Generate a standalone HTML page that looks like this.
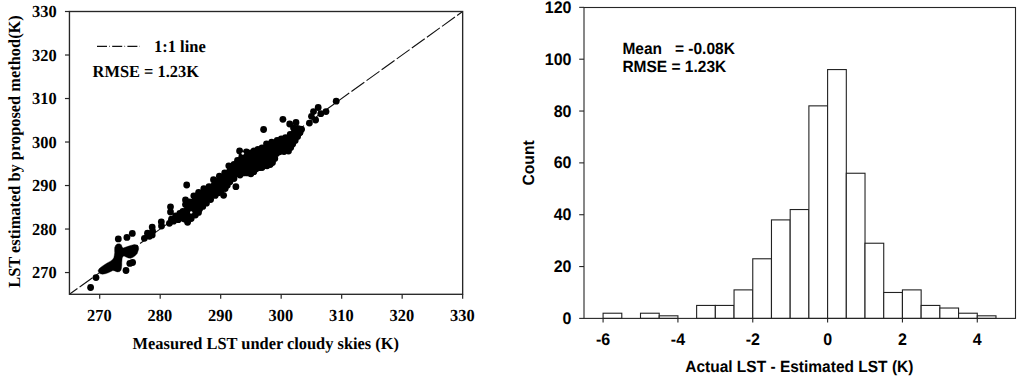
<!DOCTYPE html>
<html><head><meta charset="utf-8"><title>LST scatter and histogram</title>
<style>html,body{margin:0;padding:0;background:#fff;width:1024px;height:384px;overflow:hidden}
svg{display:block}
text{text-rendering:geometricPrecision}
</style></head><body>
<svg width="1024" height="384" viewBox="0 0 1024 384"><line x1="462.65" y1="11.50" x2="69.45" y2="294.30" stroke="#111" stroke-width="1.1" stroke-dasharray="15.9 2.7" stroke-dashoffset="9.1"/>
<g fill="#000">
<polygon points="115.7,245.2 117.1,243.9 119.4,243.7 121.3,244.7 122.1,247.0 123.2,248.0 126.0,247.0 128.8,246.1 131.6,245.2 134.4,244.5 136.8,244.9 138.4,246.4 138.7,248.9 138.0,251.2 137.2,253.6 135.4,255.5 133.0,257.3 130.7,258.3 128.3,258.0 126.0,256.9 124.1,256.1 122.7,256.4 122.1,258.7 121.8,262.5 121.8,265.3 121.5,268.1 120.8,270.5 119.4,271.7 117.1,271.9 114.7,270.9 112.9,270.5 111.0,271.4 108.2,272.8 105.4,273.7 102.6,274.2 100.2,273.7 98.6,272.3 98.1,270.5 99.3,268.6 101.6,266.7 104.4,264.8 107.2,263.0 110.1,261.4 112.4,259.7 113.8,257.8 114.3,255.5 114.7,252.7 114.6,250.3 114.7,247.5" stroke="#000" stroke-width="0.4" stroke-linejoin="round"/>
<polygon points="169.4,223.3 171.5,219.2 175.6,216.0 179.8,213.4 182.9,211.4 185.5,204.6 185.5,199.9 189.7,202.0 193.8,195.8 198.6,192.3 203.8,188.7 209.0,186.6 213.5,179.7 219.4,176.2 224.7,172.8 228.8,165.8 234.0,164.5 237.5,160.5 239.6,151.0 246.4,151.8 250.8,153.0 254.0,151.0 257.9,149.4 262.0,147.8 266.5,144.0 271.7,142.2 277.2,140.3 281.3,138.8 285.5,137.7 290.2,134.4 294.4,131.8 299.6,129.7 300.6,129.2 299.9,132.6 297.6,136.6 295.2,140.6 292.7,144.1 290.7,147.6 288.5,151.0 284.0,151.5 279.5,151.8 276.5,153.5 274.8,158.5 272.5,162.5 270.2,164.5 267.0,165.8 264.6,165.4 262.0,167.5 259.0,167.7 256.2,168.8 253.8,171.7 250.9,173.8 247.5,172.9 244.0,172.9 240.0,175.0 234.0,178.5 229.9,181.7 227.3,185.3 225.2,188.5 221.0,190.5 218.4,192.8 215.2,195.4 210.6,199.5 206.4,203.2 202.8,206.4 199.6,209.0 198.5,212.4 195.4,215.0 191.2,218.6 187.6,222.3 184.5,219.0 182.4,218.1 178.2,219.7 173.5,221.2"/>
<circle cx="169.4" cy="223.3" r="3.40"/>
<circle cx="171.5" cy="219.2" r="3.40"/>
<circle cx="175.6" cy="216.0" r="3.40"/>
<circle cx="179.8" cy="213.4" r="3.40"/>
<circle cx="182.9" cy="211.4" r="3.40"/>
<circle cx="185.5" cy="204.6" r="3.40"/>
<circle cx="185.5" cy="199.9" r="3.40"/>
<circle cx="189.7" cy="202.0" r="3.40"/>
<circle cx="193.8" cy="195.8" r="3.40"/>
<circle cx="198.6" cy="192.3" r="3.40"/>
<circle cx="203.8" cy="188.7" r="3.40"/>
<circle cx="209.0" cy="186.6" r="3.40"/>
<circle cx="213.5" cy="179.7" r="3.40"/>
<circle cx="219.4" cy="176.2" r="3.40"/>
<circle cx="224.7" cy="172.8" r="3.40"/>
<circle cx="228.8" cy="165.8" r="3.40"/>
<circle cx="234.0" cy="164.5" r="3.40"/>
<circle cx="237.5" cy="160.5" r="3.40"/>
<circle cx="239.6" cy="151.0" r="3.40"/>
<circle cx="246.4" cy="151.8" r="3.40"/>
<circle cx="250.8" cy="153.0" r="3.40"/>
<circle cx="254.0" cy="151.0" r="3.40"/>
<circle cx="257.9" cy="149.4" r="3.40"/>
<circle cx="262.0" cy="147.8" r="3.40"/>
<circle cx="266.5" cy="144.0" r="3.40"/>
<circle cx="271.7" cy="142.2" r="3.40"/>
<circle cx="277.2" cy="140.3" r="3.40"/>
<circle cx="281.3" cy="138.8" r="3.40"/>
<circle cx="285.5" cy="137.7" r="3.40"/>
<circle cx="290.2" cy="134.4" r="3.40"/>
<circle cx="294.4" cy="131.8" r="3.40"/>
<circle cx="299.6" cy="129.7" r="3.40"/>
<circle cx="300.6" cy="129.2" r="3.40"/>
<circle cx="299.9" cy="132.6" r="3.40"/>
<circle cx="297.6" cy="136.6" r="3.40"/>
<circle cx="295.2" cy="140.6" r="3.40"/>
<circle cx="292.7" cy="144.1" r="3.40"/>
<circle cx="290.7" cy="147.6" r="3.40"/>
<circle cx="288.5" cy="151.0" r="3.40"/>
<circle cx="284.0" cy="151.5" r="3.40"/>
<circle cx="279.5" cy="151.8" r="3.40"/>
<circle cx="276.5" cy="153.5" r="3.40"/>
<circle cx="274.8" cy="158.5" r="3.40"/>
<circle cx="272.5" cy="162.5" r="3.40"/>
<circle cx="270.2" cy="164.5" r="3.40"/>
<circle cx="267.0" cy="165.8" r="3.40"/>
<circle cx="264.6" cy="165.4" r="3.40"/>
<circle cx="262.0" cy="167.5" r="3.40"/>
<circle cx="259.0" cy="167.7" r="3.40"/>
<circle cx="256.2" cy="168.8" r="3.40"/>
<circle cx="253.8" cy="171.7" r="3.40"/>
<circle cx="250.9" cy="173.8" r="3.40"/>
<circle cx="247.5" cy="172.9" r="3.40"/>
<circle cx="244.0" cy="172.9" r="3.40"/>
<circle cx="240.0" cy="175.0" r="3.40"/>
<circle cx="234.0" cy="178.5" r="3.40"/>
<circle cx="229.9" cy="181.7" r="3.40"/>
<circle cx="227.3" cy="185.3" r="3.40"/>
<circle cx="225.2" cy="188.5" r="3.40"/>
<circle cx="221.0" cy="190.5" r="3.40"/>
<circle cx="218.4" cy="192.8" r="3.40"/>
<circle cx="215.2" cy="195.4" r="3.40"/>
<circle cx="210.6" cy="199.5" r="3.40"/>
<circle cx="206.4" cy="203.2" r="3.40"/>
<circle cx="202.8" cy="206.4" r="3.40"/>
<circle cx="199.6" cy="209.0" r="3.40"/>
<circle cx="198.5" cy="212.4" r="3.40"/>
<circle cx="195.4" cy="215.0" r="3.40"/>
<circle cx="191.2" cy="218.6" r="3.40"/>
<circle cx="187.6" cy="222.3" r="3.40"/>
<circle cx="184.5" cy="219.0" r="3.40"/>
<circle cx="182.4" cy="218.1" r="3.40"/>
<circle cx="178.2" cy="219.7" r="3.40"/>
<circle cx="173.5" cy="221.2" r="3.40"/>
<circle cx="90.6" cy="287.5" r="3.40"/>
<circle cx="96.0" cy="277.6" r="3.40"/>
<circle cx="126.0" cy="270.5" r="3.40"/>
<circle cx="118.3" cy="238.9" r="3.40"/>
<circle cx="126.9" cy="237.4" r="3.40"/>
<circle cx="132.3" cy="233.4" r="3.40"/>
<circle cx="129.8" cy="263.4" r="3.40"/>
<circle cx="132.6" cy="262.5" r="3.40"/>
<circle cx="144.4" cy="238.3" r="3.40"/>
<circle cx="147.5" cy="233.2" r="3.40"/>
<circle cx="152.2" cy="227.1" r="3.40"/>
<circle cx="152.6" cy="231.2" r="3.40"/>
<circle cx="152.2" cy="234.9" r="3.40"/>
<circle cx="149.5" cy="236.3" r="3.40"/>
<circle cx="148.2" cy="235.5" r="3.40"/>
<circle cx="161.3" cy="221.8" r="3.40"/>
<circle cx="161.5" cy="226.0" r="3.40"/>
<circle cx="170.5" cy="206.8" r="3.40"/>
<circle cx="170.5" cy="212.0" r="3.40"/>
<circle cx="186.7" cy="185.0" r="3.40"/>
<circle cx="235.9" cy="186.7" r="3.40"/>
<circle cx="223.6" cy="195.3" r="3.40"/>
<circle cx="263.6" cy="129.5" r="3.40"/>
<circle cx="282.9" cy="119.3" r="3.40"/>
<circle cx="289.7" cy="124.0" r="3.40"/>
<circle cx="296.0" cy="122.4" r="3.40"/>
<circle cx="300.4" cy="129.3" r="3.40"/>
<circle cx="299.9" cy="132.6" r="3.40"/>
<circle cx="336.2" cy="101.2" r="3.40"/>
<circle cx="326.0" cy="111.6" r="3.40"/>
<circle cx="318.2" cy="107.5" r="3.40"/>
<circle cx="320.8" cy="113.7" r="3.40"/>
<circle cx="313.5" cy="111.6" r="3.40"/>
<circle cx="311.5" cy="116.3" r="3.40"/>
<circle cx="315.6" cy="120.0" r="3.40"/>
<circle cx="309.4" cy="123.1" r="3.40"/>
<circle cx="301.6" cy="129.3" r="3.40"/>
<circle cx="293.5" cy="127.8" r="3.40"/>
<circle cx="297.5" cy="128.5" r="3.40"/>
</g>
<circle cx="242.8" cy="153.5" r="1.3" fill="#fff"/>
<circle cx="191.2" cy="212.4" r="1.2" fill="#fff"/>
<circle cx="315.6" cy="115.6" r="1.0" fill="#fff"/>
<rect x="69.45" y="11.50" width="393.20" height="282.80" fill="none" stroke="#262626" stroke-width="1.35"/>
<line x1="99.70" y1="294.30" x2="99.70" y2="298.80" stroke="#262626" stroke-width="1.2"/>
<line x1="64.95" y1="272.55" x2="69.45" y2="272.55" stroke="#262626" stroke-width="1.2"/>
<text transform="translate(99.40,321.40) scale(1,1.030)" font-family="'Liberation Serif', serif" font-weight="bold" font-size="16.4" text-anchor="middle">270</text>
<text transform="translate(56.60,278.15) scale(1,1.030)" font-family="'Liberation Serif', serif" font-weight="bold" font-size="16.4" text-anchor="end">270</text>
<line x1="160.19" y1="294.30" x2="160.19" y2="298.80" stroke="#262626" stroke-width="1.2"/>
<line x1="64.95" y1="229.04" x2="69.45" y2="229.04" stroke="#262626" stroke-width="1.2"/>
<text transform="translate(159.89,321.40) scale(1,1.030)" font-family="'Liberation Serif', serif" font-weight="bold" font-size="16.4" text-anchor="middle">280</text>
<text transform="translate(56.60,234.64) scale(1,1.030)" font-family="'Liberation Serif', serif" font-weight="bold" font-size="16.4" text-anchor="end">280</text>
<line x1="220.68" y1="294.30" x2="220.68" y2="298.80" stroke="#262626" stroke-width="1.2"/>
<line x1="64.95" y1="185.53" x2="69.45" y2="185.53" stroke="#262626" stroke-width="1.2"/>
<text transform="translate(220.38,321.40) scale(1,1.030)" font-family="'Liberation Serif', serif" font-weight="bold" font-size="16.4" text-anchor="middle">290</text>
<text transform="translate(56.60,191.13) scale(1,1.030)" font-family="'Liberation Serif', serif" font-weight="bold" font-size="16.4" text-anchor="end">290</text>
<line x1="281.17" y1="294.30" x2="281.17" y2="298.80" stroke="#262626" stroke-width="1.2"/>
<line x1="64.95" y1="142.02" x2="69.45" y2="142.02" stroke="#262626" stroke-width="1.2"/>
<text transform="translate(280.87,321.40) scale(1,1.030)" font-family="'Liberation Serif', serif" font-weight="bold" font-size="16.4" text-anchor="middle">300</text>
<text transform="translate(56.60,147.62) scale(1,1.030)" font-family="'Liberation Serif', serif" font-weight="bold" font-size="16.4" text-anchor="end">300</text>
<line x1="341.67" y1="294.30" x2="341.67" y2="298.80" stroke="#262626" stroke-width="1.2"/>
<line x1="64.95" y1="98.52" x2="69.45" y2="98.52" stroke="#262626" stroke-width="1.2"/>
<text transform="translate(341.37,321.40) scale(1,1.030)" font-family="'Liberation Serif', serif" font-weight="bold" font-size="16.4" text-anchor="middle">310</text>
<text transform="translate(56.60,104.12) scale(1,1.030)" font-family="'Liberation Serif', serif" font-weight="bold" font-size="16.4" text-anchor="end">310</text>
<line x1="402.16" y1="294.30" x2="402.16" y2="298.80" stroke="#262626" stroke-width="1.2"/>
<line x1="64.95" y1="55.01" x2="69.45" y2="55.01" stroke="#262626" stroke-width="1.2"/>
<text transform="translate(401.86,321.40) scale(1,1.030)" font-family="'Liberation Serif', serif" font-weight="bold" font-size="16.4" text-anchor="middle">320</text>
<text transform="translate(56.60,60.61) scale(1,1.030)" font-family="'Liberation Serif', serif" font-weight="bold" font-size="16.4" text-anchor="end">320</text>
<line x1="462.65" y1="294.30" x2="462.65" y2="298.80" stroke="#262626" stroke-width="1.2"/>
<line x1="64.95" y1="11.50" x2="69.45" y2="11.50" stroke="#262626" stroke-width="1.2"/>
<text transform="translate(462.35,321.40) scale(1,1.030)" font-family="'Liberation Serif', serif" font-weight="bold" font-size="16.4" text-anchor="middle">330</text>
<text transform="translate(56.60,17.10) scale(1,1.030)" font-family="'Liberation Serif', serif" font-weight="bold" font-size="16.4" text-anchor="end">330</text>
<text transform="translate(265.80,349.20) scale(1,1.030)" font-family="'Liberation Serif', serif" font-weight="bold" font-size="16.4" text-anchor="middle">Measured LST under cloudy skies (K)</text>
<text transform="translate(20.00,151.50) rotate(-90) scale(1,1.030)" font-family="'Liberation Serif', serif" font-weight="bold" font-size="16.4" text-anchor="middle">LST estimated by proposed method(K)</text>
<line x1="97" y1="46.4" x2="140" y2="46.4" stroke="#111" stroke-width="1.3" stroke-dasharray="10 2.3 0.6 2.3"/>
<text transform="translate(154.00,51.80) scale(1,1.030)" font-family="'Liberation Serif', serif" font-weight="bold" font-size="16.5">1:1 line</text>
<text transform="translate(92.60,77.30) scale(1,1.030)" font-family="'Liberation Serif', serif" font-weight="bold" font-size="16.4">RMSE = 1.23K</text>
<g fill="#fff" stroke="#222" stroke-width="1.1">
<rect x="603.08" y="313.22" width="18.71" height="5.18"/>
<rect x="640.50" y="313.22" width="18.71" height="5.18"/>
<rect x="659.21" y="315.81" width="18.71" height="2.59"/>
<rect x="696.63" y="305.44" width="18.71" height="12.96"/>
<rect x="715.34" y="305.44" width="18.71" height="12.96"/>
<rect x="734.05" y="289.89" width="18.71" height="28.51"/>
<rect x="752.76" y="258.78" width="18.71" height="59.62"/>
<rect x="771.47" y="219.90" width="18.71" height="98.50"/>
<rect x="790.18" y="209.54" width="18.71" height="108.86"/>
<rect x="808.89" y="105.86" width="18.71" height="212.54"/>
<rect x="827.60" y="69.57" width="18.71" height="248.83"/>
<rect x="846.31" y="173.25" width="18.71" height="145.15"/>
<rect x="865.02" y="243.23" width="18.71" height="75.17"/>
<rect x="883.73" y="292.48" width="18.71" height="25.92"/>
<rect x="902.44" y="289.89" width="18.71" height="28.51"/>
<rect x="921.15" y="305.44" width="18.71" height="12.96"/>
<rect x="939.86" y="308.03" width="18.71" height="10.37"/>
<rect x="958.57" y="313.22" width="18.71" height="5.18"/>
<rect x="977.28" y="315.81" width="18.71" height="2.59"/>
</g>
<rect x="584.00" y="7.50" width="431.50" height="310.90" fill="none" stroke="#262626" stroke-width="1.1"/>
<line x1="579.20" y1="318.40" x2="584.00" y2="318.40" stroke="#262626" stroke-width="1.1"/>
<text transform="translate(571.50,324.00) scale(1,1.045)" font-family="'Liberation Sans', sans-serif" font-weight="bold" font-size="16" text-anchor="end">0</text>
<line x1="579.20" y1="266.56" x2="584.00" y2="266.56" stroke="#262626" stroke-width="1.1"/>
<text transform="translate(571.50,272.16) scale(1,1.045)" font-family="'Liberation Sans', sans-serif" font-weight="bold" font-size="16" text-anchor="end">20</text>
<line x1="579.20" y1="214.72" x2="584.00" y2="214.72" stroke="#262626" stroke-width="1.1"/>
<text transform="translate(571.50,220.32) scale(1,1.045)" font-family="'Liberation Sans', sans-serif" font-weight="bold" font-size="16" text-anchor="end">40</text>
<line x1="579.20" y1="162.88" x2="584.00" y2="162.88" stroke="#262626" stroke-width="1.1"/>
<text transform="translate(571.50,168.48) scale(1,1.045)" font-family="'Liberation Sans', sans-serif" font-weight="bold" font-size="16" text-anchor="end">60</text>
<line x1="579.20" y1="111.04" x2="584.00" y2="111.04" stroke="#262626" stroke-width="1.1"/>
<text transform="translate(571.50,116.64) scale(1,1.045)" font-family="'Liberation Sans', sans-serif" font-weight="bold" font-size="16" text-anchor="end">80</text>
<line x1="579.20" y1="59.20" x2="584.00" y2="59.20" stroke="#262626" stroke-width="1.1"/>
<text transform="translate(571.50,64.80) scale(1,1.045)" font-family="'Liberation Sans', sans-serif" font-weight="bold" font-size="16" text-anchor="end">100</text>
<line x1="579.20" y1="7.36" x2="584.00" y2="7.36" stroke="#262626" stroke-width="1.1"/>
<text transform="translate(571.50,12.96) scale(1,1.045)" font-family="'Liberation Sans', sans-serif" font-weight="bold" font-size="16" text-anchor="end">120</text>
<line x1="603.08" y1="318.40" x2="603.08" y2="322.60" stroke="#262626" stroke-width="1.1"/>
<text transform="translate(603.08,345.00) scale(1,1.045)" font-family="'Liberation Sans', sans-serif" font-weight="bold" font-size="16" text-anchor="middle">-6</text>
<line x1="677.92" y1="318.40" x2="677.92" y2="322.60" stroke="#262626" stroke-width="1.1"/>
<text transform="translate(677.92,345.00) scale(1,1.045)" font-family="'Liberation Sans', sans-serif" font-weight="bold" font-size="16" text-anchor="middle">-4</text>
<line x1="752.76" y1="318.40" x2="752.76" y2="322.60" stroke="#262626" stroke-width="1.1"/>
<text transform="translate(752.76,345.00) scale(1,1.045)" font-family="'Liberation Sans', sans-serif" font-weight="bold" font-size="16" text-anchor="middle">-2</text>
<line x1="827.60" y1="318.40" x2="827.60" y2="322.60" stroke="#262626" stroke-width="1.1"/>
<text transform="translate(827.60,345.00) scale(1,1.045)" font-family="'Liberation Sans', sans-serif" font-weight="bold" font-size="16" text-anchor="middle">0</text>
<line x1="902.44" y1="318.40" x2="902.44" y2="322.60" stroke="#262626" stroke-width="1.1"/>
<text transform="translate(902.44,345.00) scale(1,1.045)" font-family="'Liberation Sans', sans-serif" font-weight="bold" font-size="16" text-anchor="middle">2</text>
<line x1="977.28" y1="318.40" x2="977.28" y2="322.60" stroke="#262626" stroke-width="1.1"/>
<text transform="translate(977.28,345.00) scale(1,1.045)" font-family="'Liberation Sans', sans-serif" font-weight="bold" font-size="16" text-anchor="middle">4</text>
<text transform="translate(799.30,371.80) scale(1,1.045)" font-family="'Liberation Sans', sans-serif" font-weight="bold" font-size="15.5" text-anchor="middle">Actual LST - Estimated LST (K)</text>
<text transform="translate(533.80,162.90) rotate(-90) scale(1,1.045)" font-family="'Liberation Sans', sans-serif" font-weight="bold" font-size="15.6" text-anchor="middle">Count</text>
<text transform="translate(622.40,54.30) scale(1,1.045)" font-family="'Liberation Sans', sans-serif" font-weight="bold" font-size="15.5" xml:space="preserve">Mean   = -0.08K</text>
<text transform="translate(622.40,71.70) scale(1,1.045)" font-family="'Liberation Sans', sans-serif" font-weight="bold" font-size="15.5">RMSE = 1.23K</text></svg>
</body></html>
